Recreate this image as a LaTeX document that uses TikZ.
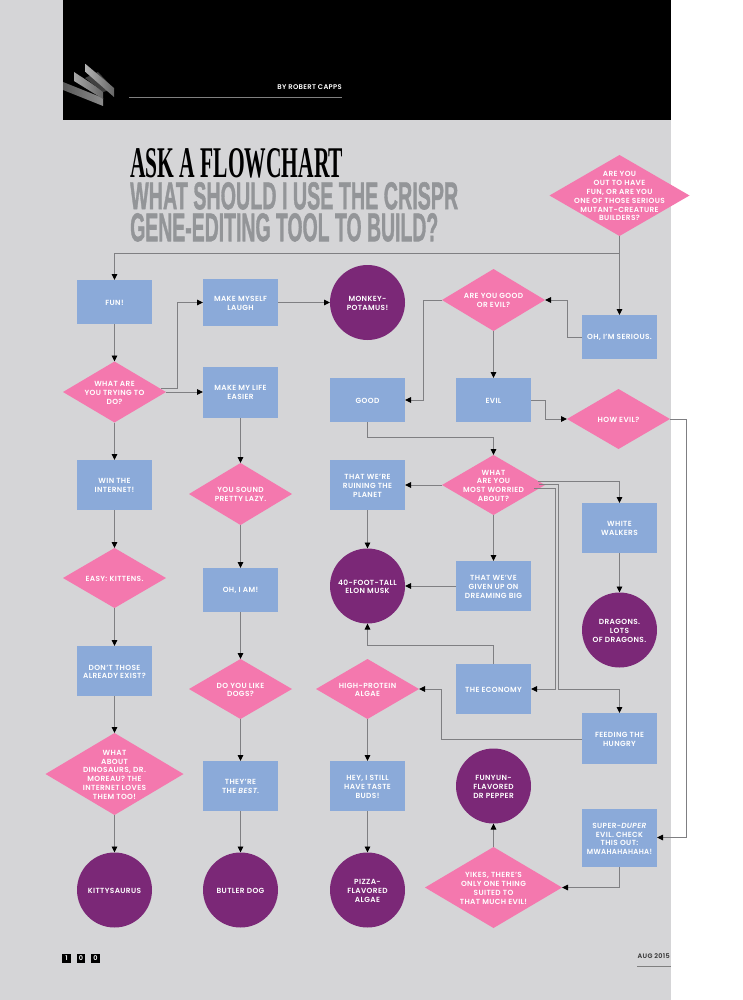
\documentclass[tikz,border=0pt]{standalone}
\usepackage{fontspec}
\usepackage{graphicx}
\usetikzlibrary{arrows.meta,shapes.geometric,calc}
\setmainfont{Poppins}[LetterSpace=5,BoldFont={Poppins SemiBold},BoldItalicFont={Poppins SemiBold Italic}]
\newfontfamily\hdsans{Liberation Sans}[BoldFeatures={FakeBold=1.5}]
\newfontfamily\hdserif{Liberation Serif}
\definecolor{bgray}{HTML}{D5D5D7}
\definecolor{boxblue}{HTML}{8BAAD9}
\definecolor{dpink}{HTML}{F478AE}
\definecolor{cpurple}{HTML}{7B2877}
\definecolor{lnk}{HTML}{7F7F82}
\definecolor{ttl}{HTML}{939598}
\tikzset{
 lbl/.style={text=white,align=center,font=\fontsize{7.4}{8.8}\selectfont\bfseries,inner sep=0pt,yshift=-0.8pt},
 lk/.style={draw=lnk,line width=0.95pt,-{Triangle[black,length=6pt,width=5.5pt]}},
}
\newcommand{\dmnd}[6]{%
 \fill[dpink] (#2+#4,#3) -- (#2,#3+#5) -- (#2-#4,#3) -- (#2,#3-#5) -- cycle;
 \node[lbl] (#1) at (#2,#3) {#6};
 \coordinate (#1N) at (#2,#3-#5); \coordinate (#1S) at (#2,#3+#5);
 \coordinate (#1W) at (#2-#4,#3); \coordinate (#1E) at (#2+#4,#3);}
\newcommand{\bxn}[6]{%
 \fill[boxblue] (#2,#4) rectangle (#3,#5);
 \node[lbl] (#1) at ({(#2+#3)/2},{(#4+#5)/2}) {#6};
 \coordinate (#1N) at ({(#2+#3)/2},#4); \coordinate (#1S) at ({(#2+#3)/2},#5);
 \coordinate (#1W) at (#2,{(#4+#5)/2}); \coordinate (#1E) at (#3,{(#4+#5)/2});}
\newcommand{\crc}[4]{%
 \fill[cpurple] (#2,#3) circle (37.5);
 \node[lbl] (#1) at (#2,#3) {#4};
 \coordinate (#1N) at (#2,#3-37.5); \coordinate (#1S) at (#2,#3+37.5);
 \coordinate (#1W) at (#2-37.5,#3); \coordinate (#1E) at (#2+37.5,#3);}
\begin{document}
\begin{tikzpicture}[x=1pt,y=-1pt]
\useasboundingbox (0,0) rectangle (742,1000);
\fill[white] (0,0) rectangle (742,1000);
\fill[bgray] (0,0) rectangle (671,1000);
\fill[black] (63,0) rectangle (671,120);
% logo
\shade[left color=black!65,right color=black!45] (63,82) -- (103,98) -- (103,106) -- (63,90) -- cycle;
\shade[left color=black!35,right color=black!60] (74,72) -- (103,91) -- (103,99) -- (74,81) -- cycle;
\fill[black!75] (85,78) -- (98,72) -- (114,89) -- (103,92) -- cycle;
\shade[left color=black!30,right color=black!60] (85.5,64) -- (114,88) -- (114,97) -- (85.5,72) -- cycle;
% header text
\node[anchor=east,text=white,inner sep=0pt,font=\fontsize{6.8}{7}\selectfont\bfseries] (by) at (342,87.5) {BY ROBERT CAPPS};
\coordinate (ruleA) at (129,97); \coordinate (ruleB) at (342,97);
\draw[gray,line width=0.7pt] (ruleA) -- (ruleB);
\node[anchor=north west,inner sep=0pt] (t1) at (130,148) {\resizebox{213pt}{29pt}{\hdserif\bfseries ASK A FLOWCHART}};
\node[anchor=north west,inner sep=0pt,text=ttl] (t2) at (130,182) {\resizebox{328pt}{27pt}{\hdsans\bfseries WHAT SHOULD I USE THE CRISPR}};
\node[anchor=north west,inner sep=0pt,text=ttl] (t3) at (130,213) {\resizebox{308pt}{28pt}{\hdsans\bfseries GENE-EDITING TOOL TO BUILD?}};
% nodes
\dmnd{top}{619.5}{195.5}{70}{40.5}{ARE YOU\\OUT TO HAVE\\FUN, OR ARE YOU\\ONE OF THOSE SERIOUS\\MUTANT-CREATURE\\BUILDERS?}
\bxn{fun}{77}{152}{280}{324}{FUN!}
\bxn{laugh}{203}{278}{279}{326}{MAKE MYSELF\\LAUGH}
\crc{monkey}{367.5}{302.5}{MONKEY-\\POTAMUS!}
\dmnd{ge}{493.5}{300}{51.5}{31}{ARE YOU GOOD\\OR EVIL?}
\bxn{serious}{582}{657}{315}{359}{OH, I'M SERIOUS.}
\dmnd{try}{114.5}{392}{51.5}{30.5}{WHAT ARE\\YOU TRYING TO\\DO?}
\bxn{life}{203}{278}{366.5}{417.5}{MAKE MY LIFE\\EASIER}
\bxn{good}{330}{405}{378}{422}{GOOD}
\bxn{evil}{456}{531}{378}{422}{EVIL}
\dmnd{how}{618.5}{419}{51.5}{30}{HOW EVIL?}
\bxn{win}{77}{152}{460}{510}{WIN THE\\INTERNET!}
\bxn{ruin}{330}{405}{460}{510}{THAT WE'RE\\RUINING THE\\PLANET}
\dmnd{wor}{493.5}{485}{51.5}{30}{WHAT\\ARE YOU\\MOST WORRIED\\ABOUT?}
\bxn{white}{582}{657}{503}{553}{WHITE\\WALKERS}
\crc{drag}{619.5}{630}{DRAGONS.\\LOTS\\OF DRAGONS.}
\bxn{given}{456}{531}{561}{611}{THAT WE'VE\\GIVEN UP ON\\DREAMING BIG}
\bxn{econ}{456}{531}{664}{714}{THE ECONOMY}
\bxn{feed}{582}{657}{713}{764}{FEEDING THE\\HUNGRY}
\dmnd{lazy}{240.5}{494}{51.5}{31}{YOU SOUND\\PRETTY LAZY.}
\dmnd{kit}{114.5}{578}{51.5}{30}{EASY: KITTENS.}
\crc{elon}{367.5}{586}{40-FOOT-TALL\\ELON MUSK}
\bxn{ohi}{203}{278}{568}{612}{OH, I AM!}
\bxn{exist}{77}{152}{646}{696}{DON'T THOSE\\ALREADY EXIST?}
\dmnd{dogs}{240.5}{689}{51.5}{30}{DO YOU LIKE\\DOGS?}
\dmnd{algae}{367.5}{689}{51.5}{30}{HIGH-PROTEIN\\ALGAE}
\dmnd{dino}{114.5}{774}{69}{41}{WHAT\\ABOUT\\DINOSAURS, DR.\\MOREAU? THE\\INTERNET LOVES\\THEM TOO!}
\bxn{best}{203}{278}{761}{811}{THEY'RE\\THE \textit{BEST}.}
\bxn{taste}{330}{405}{761}{811}{HEY, I STILL\\HAVE TASTE\\BUDS!}
\crc{fun2}{493.5}{786}{FUNYUN-\\FLAVORED\\DR PEPPER}
\bxn{super}{582}{657}{809}{867}{SUPER-\textit{DUPER}\\EVIL. CHECK\\THIS OUT:\\\scalebox{0.95}[1]{MWAHAHAHAHA!}}
\dmnd{yikes}{493.5}{887.5}{68.5}{40.5}{YIKES, THERE'S\\ONLY ONE THING\\SUITED TO\\THAT MUCH EVIL!}
\crc{kitty}{114.5}{890}{KITTYSAURUS}
\crc{butler}{240.5}{890}{BUTLER DOG}
\crc{pizza}{367.5}{890}{PIZZA-\\FLAVORED\\ALGAE}
% bend points
\coordinate (c1) at (619.5,253);
\coordinate (c2) at (161,388); \coordinate (c3) at (177,388);
\coordinate (c4) at (567,337);
\coordinate (c5) at (423,300);
\coordinate (c6) at (545,400);
\coordinate (c7) at (367.5,437);
\coordinate (w1) at (538,481.5);
\coordinate (w2) at (534,488); \coordinate (w3) at (555,488);
\coordinate (w4) at (539,484); \coordinate (w5) at (558.5,484);
\coordinate (w6) at (558.5,689);
\coordinate (e1) at (493.5,645);
\coordinate (f1) at (441,739);
\coordinate (h1) at (686.5,419);
\coordinate (h2) at (686.5,837.5);
\coordinate (h3) at (657,837.5);
\coordinate (s1) at (619.5,887.5);
\coordinate (g1) at (582,739);
% connectors
\draw[lk] (topS) -- (seriousN);
\draw[lk] (topS) -- (c1) -| (funN);
\draw[lk] (funS) -- (tryN);
\draw[lk] (c2) -- (c3) |- (laughW);
\draw[lk] (tryE) -- (lifeW);
\draw[lk] (laughE) -- (monkeyW);
\draw[lk] (seriousW) -- (c4) |- (geE);
\draw[lk] (geW) -- (c5) |- (goodE);
\draw[lk] (geS) -- (evilN);
\draw[lk] (evilE) -- (c6) |- (howW);
\draw[lk] (goodS) -- (c7) -| (worN);
\draw[lk] (worW) -- (ruinE);
\draw[lk] (ruinS) -- (elonN);
\draw[lk] (worS) -- (givenN);
\draw[lk] (givenW) -- (elonE);
\draw[lk] (econN) -- (e1) -| (elonS);
\draw[lk] (w1) -| (whiteN);
\draw[lk] (whiteS) -- (dragN);
\draw[lk] (w2) -- (w3) |- (econE);
\draw[lk] (w4) -- (w5) -- (w6) -| (feedN);
\draw[lk] (g1) -- (f1) |- (algaeE);
\draw[lk] (algaeS) -- (tasteN);
\draw[lk] (tasteS) -- (pizzaN);
\draw[lk] (howE) -- (h1) -- (h2) -- (h3);
\draw[lk] (superS) -- (s1) -- (yikesE);
\draw[lk] (yikesN) -- (fun2S);
\draw[lk] (tryS) -- (winN);
\draw[lk] (winS) -- (kitN);
\draw[lk] (kitS) -- (existN);
\draw[lk] (existS) -- (dinoN);
\draw[lk] (dinoS) -- (kittyN);
\draw[lk] (lifeS) -- (lazyN);
\draw[lk] (lazyS) -- (ohiN);
\draw[lk] (ohiS) -- (dogsN);
\draw[lk] (dogsS) -- (bestN);
\draw[lk] (bestS) -- (butlerN);
% footer
\foreach \nm/\xx/\dg in {pa/66.5/1,pb/81/0,pc/95.5/0}{
 \node[fill=black,text=white,minimum size=8.5pt,inner sep=0pt,font=\fontsize{6.5}{7}\selectfont\bfseries] (\nm) at (\xx,958.5) {\dg};
}
\node[anchor=east,inner sep=0pt,text=black!80,font=\fontsize{6.5}{7}\selectfont\bfseries] (aug) at (670,956) {AUG 2015};
\coordinate (ruleC) at (637,966); \coordinate (ruleD) at (671,966);
\draw[gray,line width=0.7pt] (ruleC) -- (ruleD);
\end{tikzpicture}
\end{document}
